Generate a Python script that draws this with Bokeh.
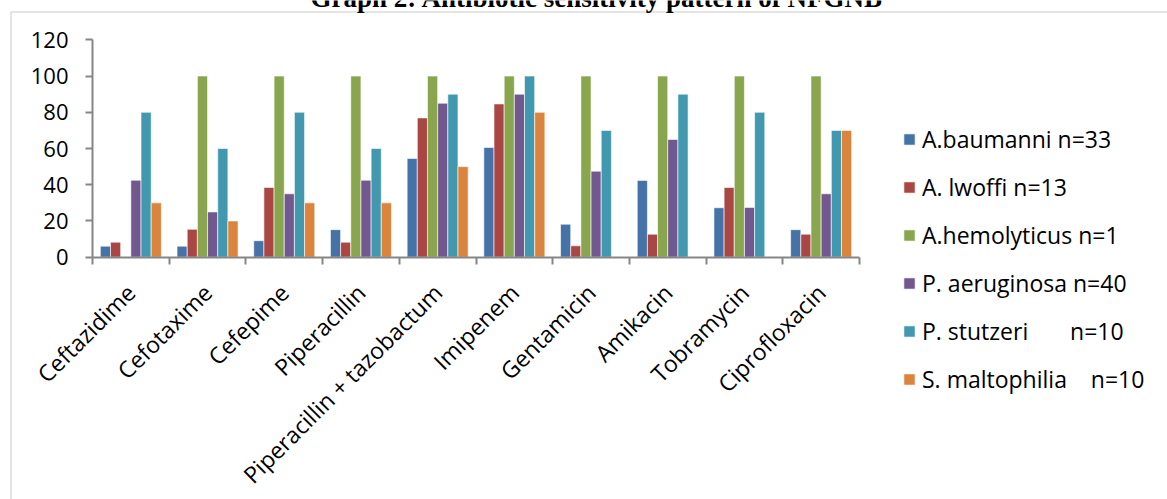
import math
from bokeh.plotting import figure
from bokeh.models import (ColumnDataSource, Range1d, FixedTicker, Legend, LegendItem, Label,
                          BoxAnnotation)
from bokeh.transform import dodge
from bokeh.embed import file_html
from bokeh.resources import INLINE

# ---------------- data ----------------
title_text = "Graph 2: Antibiotic sensitivity pattern of NFGNB"
categories = ["Ceftazidime", "Cefotaxime", "Cefepime", "Piperacillin",
              "Piperacillin + tazobactum", "Imipenem", "Gentamicin", "Amikacin",
              "Tobramycin", "Ciprofloxacin"]
series_names = ["A.baumanni n=33", "A. lwoffi n=13", "A.hemolyticus n=1",
                "P. aeruginosa n=40", "P. stutzeri       n=10", "S. maltophilia    n=10"]
a_baumanni = [6.1, 6.1, 9.1, 15.2, 54.5, 60.6, 18.2, 42.4, 27.3, 15.2]
a_lwoffi = [8.3, 15.4, 38.5, 8.3, 76.9, 84.6, 6.3, 12.7, 38.5, 12.7]
a_hemolyticus = [0, 100, 100, 100, 100, 100, 100, 100, 100, 100]
p_aeruginosa = [42.5, 25, 35, 42.5, 85, 90, 47.5, 65, 27.5, 35]
p_stutzeri = [80, 60, 80, 60, 90, 100, 70, 90, 80, 70]
s_maltophilia = [30, 20, 30, 30, 50, 80, 0, 0, 0, 70]
y_ticks = [0, 20, 40, 60, 80, 100, 120]
colors = ["#4572A7", "#AA4643", "#89A54E", "#71588F", "#4198AF", "#DB843D"]

all_series = [a_baumanni, a_lwoffi, a_hemolyticus, p_aeruginosa, p_stutzeri, s_maltophilia]

# ---------------- layout geometry (pixels) ----------------
W, H = 1167, 499
axis_x0, axis_x1 = 92, 859      # category axis extent
axis_y0, axis_y1 = 256.7, 39.3  # value axis: 0 and 120
n_cat = len(categories)
px_per_cat = (axis_x1 - axis_x0) / n_cat
px_per_unit = (axis_y0 - axis_y1) / 120.0

xc = [i + 0.5 for i in range(n_cat)]
data = {"xc": xc}
for k, s in enumerate(all_series):
    data[f"s{k}"] = s
src = ColumnDataSource(data)

# the frame fills the whole canvas; axes are pinned at data zero
x_range = Range1d(-axis_x0 / px_per_cat, (W - axis_x0) / px_per_cat)
y_range = Range1d(-(H - axis_y0) / px_per_unit, axis_y0 / px_per_unit)

p = figure(width=W, height=H, output_backend="svg", toolbar_location=None,
           x_range=x_range, y_range=y_range, min_border=0)
p.background_fill_color = "white"
p.border_fill_color = "white"
p.outline_line_color = None
p.xgrid.visible = False
p.ygrid.visible = False


def sx(px):
    return (px - axis_x0) / px_per_cat


def sy(py):
    return (axis_y0 - py) / px_per_unit


# outer chart-area border
p.add_layout(BoxAnnotation(left=sx(10.5), right=sx(W + 50), top=sy(11.5), bottom=sy(H + 50),
                           fill_alpha=0, line_color="#8e8e8e", line_width=1.6))

bar_w = 0.1326
renderers = []
for k in range(len(all_series)):
    off = (k - 2.5) * bar_w
    r = p.vbar(x=dodge("xc", off), top=f"s{k}", width=bar_w, source=src,
               fill_color=colors[k], line_color="white", line_alpha=0.6, line_width=1)
    renderers.append(r)

axis_col = "#868686"
font = "Open Sans"

xa = p.xaxis[0]
xa.fixed_location = 0
xa.bounds = (0, n_cat)
xa.ticker = FixedTicker(ticks=xc, minor_ticks=list(range(n_cat + 1)))
xa.major_label_overrides = {x: c for x, c in zip(xc, categories)}
xa.major_tick_out = 0
xa.major_tick_in = 0
xa.minor_tick_out = 7
xa.minor_tick_in = 0
xa.minor_tick_line_color = axis_col
xa.minor_tick_line_width = 2
xa.axis_line_color = axis_col
xa.axis_line_width = 2
xa.major_label_orientation = math.pi / 4
xa.major_label_standoff = 24
xa.major_label_text_font = font
xa.major_label_text_font_size = "23px"
xa.major_label_text_color = "black"

ya = p.yaxis[0]
ya.fixed_location = 0
ya.bounds = (0, 120)
ya.ticker = FixedTicker(ticks=y_ticks)
ya.major_tick_out = 7
ya.major_tick_in = 0
ya.minor_tick_out = 0
ya.minor_tick_in = 0
ya.major_tick_line_color = axis_col
ya.major_tick_line_width = 2
ya.axis_line_color = axis_col
ya.axis_line_width = 2
ya.major_label_standoff = 17
ya.major_label_text_font = font
ya.major_label_text_font_size = "22px"
ya.major_label_text_color = "black"

# title (cropped at the top in the original)
p.add_layout(Label(x=sx(596.5), y=sy(-3), text=title_text, text_font="Liberation Serif",
                   text_font_style="bold", text_font_size="27px", text_align="center",
                   text_baseline="alphabetic", text_color="black"))

legend = Legend(items=[LegendItem(label=n, renderers=[r]) for n, r in zip(series_names, renderers)],
                location=(902, H - 395), glyph_width=14, glyph_height=14, label_standoff=6,
                label_height=32, spacing=16, padding=0, margin=0,
                border_line_color=None, background_fill_alpha=0,
                label_text_font=font, label_text_font_size="23px",
                label_text_color="black")
p.add_layout(legend)

open("out.html", "w").write(file_html(p, INLINE))
